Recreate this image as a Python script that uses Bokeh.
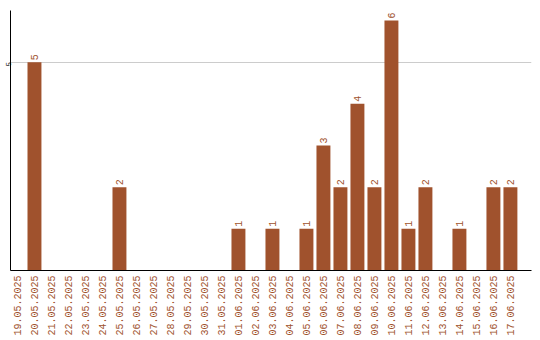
import math
from bokeh.plotting import figure
from bokeh.models import ColumnDataSource, Range1d, FixedTicker
from bokeh.core.properties import value
from bokeh.embed import file_html
from bokeh.resources import INLINE

dates = ["19.05.2025", "20.05.2025", "21.05.2025", "22.05.2025", "23.05.2025",
         "24.05.2025", "25.05.2025", "26.05.2025", "27.05.2025", "28.05.2025",
         "29.05.2025", "30.05.2025", "31.05.2025", "01.06.2025", "02.06.2025",
         "03.06.2025", "04.06.2025", "05.06.2025", "06.06.2025", "07.06.2025",
         "08.06.2025", "09.06.2025", "10.06.2025", "11.06.2025", "12.06.2025",
         "13.06.2025", "14.06.2025", "15.06.2025", "16.06.2025", "17.06.2025"]
counts = [0, 5, 0, 0, 0, 0, 2, 0, 0, 0, 0, 0, 0, 1, 0, 1, 0, 1, 3, 2, 4, 2, 6, 1, 2, 0, 1, 0, 2, 2]
y_ticks = [5]

BROWN = "#A0522D"
FONT = "Liberation Mono"

idx = list(range(len(dates)))
bar_idx = [i for i in idx if counts[i] > 0]
src = ColumnDataSource(dict(x=bar_idx, top=[counts[i] for i in bar_idx],
                            lbl=[str(counts[i]) for i in bar_idx]))

p = figure(width=540, height=340, output_backend="svg", toolbar_location=None,
           x_range=Range1d(-0.41, 30.24), y_range=Range1d(0, 6.24),
           min_border_left=10, min_border_right=9, min_border_top=10, min_border_bottom=70)
p.outline_line_color = None
p.background_fill_color = "white"
p.border_fill_color = "white"

p.vbar(x="x", top="top", width=0.82, bottom=0, source=src, fill_color=BROWN, line_color=None)
p.text(x="x", y="top", text="lbl", source=src, angle=math.pi / 2, text_align="left",
       text_baseline="middle", y_offset=-2, text_color=BROWN, text_font=value(FONT),
       text_font_size="10px")

p.xgrid.visible = False
p.ygrid.ticker = FixedTicker(ticks=y_ticks)
p.ygrid.grid_line_color = "#cccccc"

xa = p.xaxis[0]
xa.ticker = FixedTicker(ticks=idx)
xa.major_label_overrides = {i: d for i, d in zip(idx, dates)}
xa.major_label_orientation = math.pi / 2
xa.major_label_text_color = BROWN
xa.major_label_text_font = FONT
xa.major_label_text_font_size = "10px"
xa.major_tick_line_color = None
xa.major_tick_out = 0
xa.major_tick_in = 0
xa.minor_tick_line_color = None
xa.major_label_standoff = 5
xa.axis_line_color = "black"

ya = p.yaxis[0]
ya.ticker = FixedTicker(ticks=y_ticks)
ya.major_label_orientation = math.pi / 2
ya.major_label_text_color = "black"
ya.major_label_text_font = FONT
ya.major_label_text_font_size = "7px"
ya.major_tick_line_color = None
ya.major_tick_out = 0
ya.major_tick_in = 0
ya.minor_tick_line_color = None
ya.major_label_standoff = 2
ya.axis_line_color = "black"

open("out.html", "w").write(file_html(p, INLINE))
